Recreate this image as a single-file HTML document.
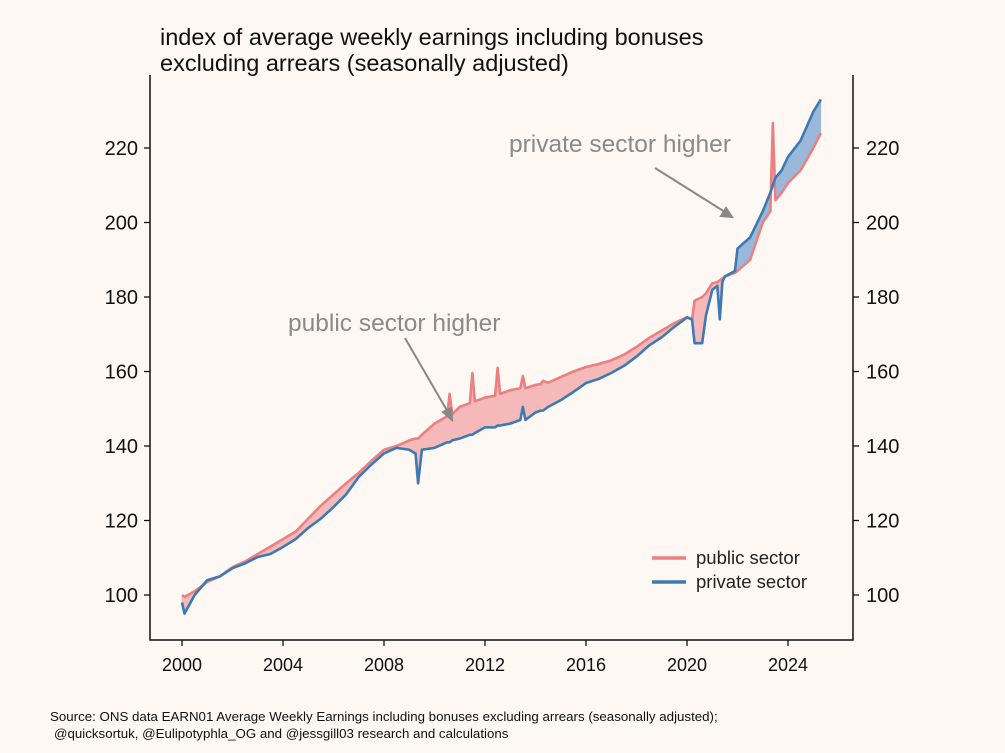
<!DOCTYPE html>
<html><head><meta charset="utf-8"><style>
body{margin:0;background:#fdf8f4;}
svg{display:block;font-family:"Liberation Sans","DejaVu Sans",sans-serif;}
</style></head><body>
<svg id="c" width="1005" height="753" viewBox="0 0 1005 753">
<rect width="1005" height="753" fill="#fdf8f4"/>
<text x="160" y="45" font-size="23.5" fill="#111">index of average weekly earnings including bonuses</text>
<text x="160" y="71" font-size="23.5" fill="#111">excluding arrears (seasonally adjusted)</text>
<g id="fills"></g>
<g id="lines"></g>
<g id="axes"></g>
<text x="288" y="331" font-size="24.5" fill="#8a8a8a">public sector higher</text>
<text x="509" y="152" font-size="24.5" fill="#8a8a8a">private sector higher</text>
<g stroke="#888" stroke-width="2" fill="#888">
<line x1="405" y1="338" x2="449" y2="414"/>
<polygon points="452,420 443,412 451,408"/>
<line x1="655" y1="168" x2="725" y2="212"/>
<polygon points="732,217 721,216 726,208"/>
</g>
<g>
<line x1="652" y1="558" x2="686" y2="558" stroke="#ec8080" stroke-width="3.5"/>
<text x="696" y="564" font-size="18.5" fill="#222">public sector</text>
<line x1="652" y1="582" x2="686" y2="582" stroke="#3d7ab4" stroke-width="3.5"/>
<text x="696" y="588" font-size="18.5" fill="#222">private sector</text>
</g>
<text x="50" y="721" font-size="13.3" fill="#111">Source: ONS data EARN01 Average Weekly Earnings including bonuses excluding arrears (seasonally adjusted);</text>
<text x="54" y="738" font-size="13.3" fill="#111">@quicksortuk, @Eulipotyphla_OG and @jessgill03 research and calculations</text>
</svg>
<script>
const dates=[2000.0,2000.1,2000.5,2001,2001.5,2002,2002.5,2003,2003.5,2004,2004.5,2005,2005.5,2006,2006.5,2007,2007.5,2008,2008.5,2009,2009.25,2009.35,2009.5,2010,2010.5,2010.6,2010.7,2011,2011.4,2011.5,2011.6,2012,2012.4,2012.5,2012.6,2013,2013.4,2013.5,2013.6,2014,2014.2,2014.3,2014.5,2015,2015.5,2016,2016.5,2017,2017.5,2018,2018.5,2019,2019.5,2020,2020.2,2020.3,2020.6,2020.75,2021,2021.2,2021.3,2021.4,2021.5,2021.9,2022.0,2022.5,2023,2023.3,2023.4,2023.5,2023.75,2024,2024.5,2025,2025.3];
const publicSector=[100,99.5,101,103.5,105,107.5,109,111,113,115,117,120.5,124,127,130,132.8,136,139,140,141.5,142,142,143,146,148,154,148.5,150.5,151.5,159.6,152,153,153.5,161,154,155,155.5,158.8,155.5,156.4,156.6,157.5,157,158.5,160,161.2,162,163,164.5,166.6,169,171,173,174.6,174,179,180,181,183.7,184,184.5,185,185.5,186.5,187,190,200,203,226.7,206,208,210.6,214,220,224];
const privateSector=[98,95,100,104,105,107.2,108.5,110.2,111,112.9,115,118,120.5,123.6,127,131.7,135,138,139.5,139,138,130,139,139.5,141,141,141.5,142,143,143,143.5,145,145,145.5,145.5,146,147,150.5,147,149,149.5,149.5,150.5,152.3,154.5,156.9,158,159.6,161.5,164,167,169.2,172,174.5,174,167.6,167.6,175,181.9,183,174,184,185.5,187,193,196,203,208,210,212,214,217.6,222,229.7,233];
const xTicks=[2000,2004,2008,2012,2016,2020,2024];
const yTicks=[100,120,140,160,180,200,220];
const X=v=>182+(v-2000)*25.25;
const Y=v=>595-(v-100)*3.725;
const NS='http://www.w3.org/2000/svg';
function mk(tag,attrs,parent){const e=document.createElementNS(NS,tag);for(const k in attrs)e.setAttribute(k,attrs[k]);parent.appendChild(e);return e;}
const fills=document.getElementById('fills'),lines=document.getElementById('lines'),axes=document.getElementById('axes');
for(let i=0;i<dates.length-1;i++){
  const x0=X(dates[i]),x1=X(dates[i+1]);
  const a0=publicSector[i],a1=publicSector[i+1],b0=privateSector[i],b1=privateSector[i+1];
  const d0=a0-b0,d1=a1-b1;
  const segs=[];
  if(d0*d1<0){const t=d0/(d0-d1);const xm=x0+t*(x1-x0),ym=Y(a0+t*(a1-a0));
    segs.push([[x0,Y(a0)],[xm,ym],[x0,Y(b0)],d0]);
    segs.push([[xm,ym],[x1,Y(a1)],[x1,Y(b1)],d1]);
  } else segs.push([[x0,Y(a0)],[x1,Y(a1)],[x1,Y(b1)],[x0,Y(b0)],d0+d1]);
  segs.forEach(s=>{const sign=s.pop();
    const p=mk('polygon',{points:s.map(q=>q.join(',')).join(' '),fill:sign>=0?'#f5b9b9':'#9ab9da',stroke:sign>=0?'#f5b9b9':'#9ab9da','stroke-width':0.6},fills);
    
    });
}
const pl=mk('polyline',{points:dates.map((d,i)=>X(d)+','+Y(publicSector[i])).join(' '),fill:'none',stroke:'#ec8080','stroke-width':2.6,'stroke-linejoin':'round'},lines);


const pr=mk('polyline',{points:dates.map((d,i)=>X(d)+','+Y(privateSector[i])).join(' '),fill:'none',stroke:'#3d7ab4','stroke-width':2.6,'stroke-linejoin':'round'},lines);


const frame=mk('polyline',{points:'150,75 150,640 853,640 853,75',fill:'none',stroke:'#111','stroke-width':1.5},axes);


xTicks.forEach(t=>{
  const tk=mk('line',{x1:X(t),x2:X(t),y1:640,y2:646,stroke:'#111','stroke-width':1.3},axes);
  
  
  const tx=mk('text',{x:X(t),y:671,'font-size':18,'text-anchor':'middle',fill:'#111'},axes);tx.textContent=t;
  
  
});
yTicks.forEach(t=>{
  const l=mk('line',{x1:144,x2:150,y1:Y(t),y2:Y(t),stroke:'#111','stroke-width':1.3},axes);
  
  
  const r=mk('line',{x1:853,x2:859,y1:Y(t),y2:Y(t),stroke:'#111','stroke-width':1.3},axes);
  
  
  const tl=mk('text',{x:138,y:Y(t)+7,'font-size':20,'text-anchor':'end',fill:'#111'},axes);tl.textContent=t;
  
  
  const tr=mk('text',{x:866,y:Y(t)+7,'font-size':20,fill:'#111'},axes);tr.textContent=t;
  
  
});
</script>
</body></html>
